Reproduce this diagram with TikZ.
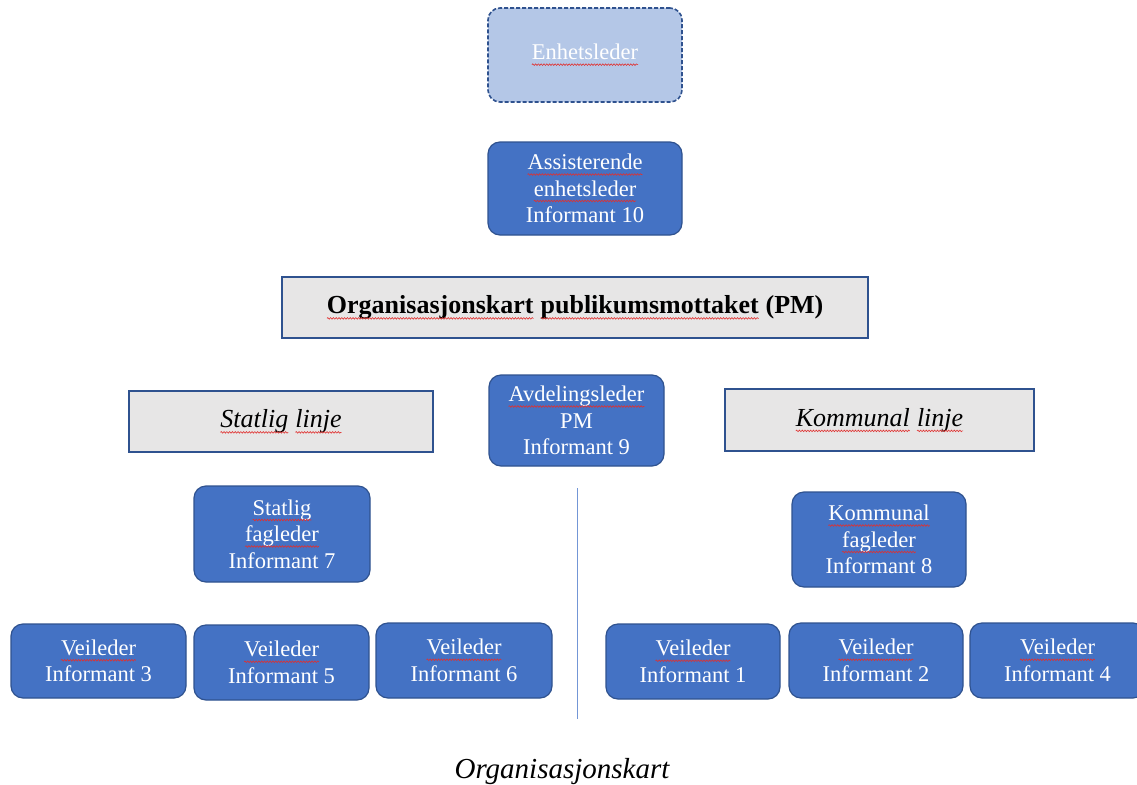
\documentclass[tikz,border=0pt]{standalone}
\usepackage{fontspec}
\setmainfont{Liberation Serif}
\usetikzlibrary{decorations.pathmorphing}
\definecolor{bfill}{HTML}{4472C4}
\definecolor{bdraw}{HTML}{2F528F}
\definecolor{lfill}{HTML}{B4C7E7}
\definecolor{gfill}{HTML}{E7E6E6}
\definecolor{vline}{HTML}{7396D6}
\definecolor{sqred}{HTML}{E0302F}
\tikzset{
 squig/.style={draw=sqred, solid, sharp corners, line width=0.6pt, decorate, decoration={snake, amplitude=0.8pt, segment length=2.8pt}},
 plainnode/.style={rectangle, inner sep=0pt, outer sep=0pt, draw=none, fill=none, sharp corners, minimum width=0pt, minimum height=0pt, solid},
 bluebox/.style={rectangle, rounded corners=12pt, fill=bfill, draw=bdraw, line width=1.2pt, text=white, align=center, font=\fontsize{22.5}{26.5}\selectfont, inner sep=0pt},
 dashbox/.style={bluebox, fill=lfill, dash pattern=on 4pt off 2pt, line width=1.6pt},
 greybox/.style={rectangle, fill=gfill, draw=bdraw, line width=1.5pt, align=center, inner sep=0pt, font=\fontsize{26}{30}\selectfont},
 divider/.style={draw=vline, line width=1pt},
 captionstyle/.style={font=\fontsize{29}{33}\selectfont\itshape, inner sep=0pt},
}
\newcommand\sq[1]{\tikz[baseline=(w.base)]{\node[plainnode](w){#1};\draw[squig]([yshift=-4.8pt]w.base west)--([yshift=-4.8pt]w.base east);}}
\begin{document}
\begin{tikzpicture}[x=1pt,y=-1pt]
\useasboundingbox (0,0) rectangle (1137,784);
\node[dashbox, minimum width=194pt, minimum height=94pt] (enh) at (585,55) {\sq{Enhetsleder}};
\node[bluebox, minimum width=194pt, minimum height=93pt] (ass) at (585,188.5) {\sq{Assisterende}\\\sq{enhetsleder}\\Informant 10};
\node[greybox, minimum width=586pt, minimum height=61pt] (title) at (575,307.5) {\bfseries\sq{Organisasjonskart} \sq{publikumsmottaket} (PM)};
\node[greybox, minimum width=304pt, minimum height=61pt] (stat) at (281,421.5) {\itshape\sq{Statlig} \sq{linje}};
\node[bluebox, minimum width=175pt, minimum height=91pt] (avd) at (576.5,420.5) {\sq{Avdelingsleder}\\PM\\Informant 9};
\node[greybox, minimum width=309pt, minimum height=62pt] (komm) at (879.5,420) {\itshape\sq{Kommunal} \sq{linje}};
\node[bluebox, minimum width=176pt, minimum height=96pt] (sfag) at (282,534) {\sq{Statlig}\\\sq{fagleder}\\Informant 7};
\node[bluebox, minimum width=174pt, minimum height=95pt] (kfag) at (879,539.5) {\sq{Kommunal}\\\sq{fagleder}\\Informant 8};
\node[bluebox, minimum width=175pt, minimum height=74pt] (v3) at (98.5,661) {\sq{Veileder}\\Informant 3};
\node[bluebox, minimum width=175pt, minimum height=75pt] (v5) at (281.5,662.5) {\sq{Veileder}\\Informant 5};
\node[bluebox, minimum width=176pt, minimum height=75pt] (v6) at (464,660.5) {\sq{Veileder}\\Informant 6};
\node[bluebox, minimum width=174pt, minimum height=75pt] (v1) at (693,661.5) {\sq{Veileder}\\Informant 1};
\node[bluebox, minimum width=174pt, minimum height=75pt] (v2) at (876,660.5) {\sq{Veileder}\\Informant 2};
\node[bluebox, minimum width=175pt, minimum height=75pt] (v4) at (1057.5,660.5) {\sq{Veileder}\\Informant 4};
\coordinate (dtop) at (577,488);
\coordinate (dbot) at (577,719);
\draw[divider] (dtop) -- (dbot);
\node[captionstyle] (cap) at (562,772) {Organisasjonskart};
\end{tikzpicture}
\end{document}
